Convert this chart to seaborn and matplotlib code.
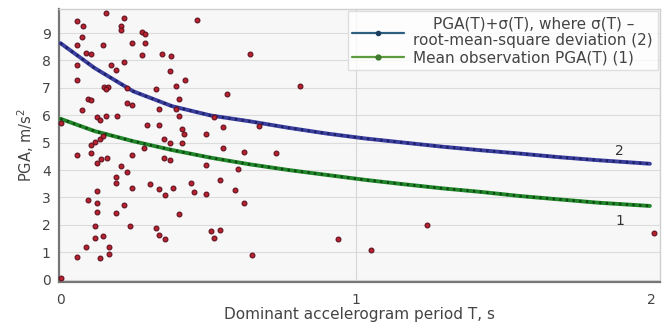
import matplotlib
matplotlib.use("Agg")
import matplotlib.pyplot as plt
import seaborn as sns
import pandas as pd
from matplotlib.lines import Line2D

# ---- data ----
period_obs = [0.055, 0.075, 0.154, 0.215, 0.204, 0.204, 0.072, 0.055, 0.144, 0.243, 0.277, 0.285,
              0.285, 0.277, 0.086, 0.105, 0.345, 0.374, 0.462, 0.641, 0.055, 0.17, 0.187, 0.215,
              0.372, 0.055, 0.392, 0.423, 0.147, 0.161, 0.155, 0.224, 0.322, 0.563, 0.81, 0.094,
              0.103, 0.224, 0.243, 0.402, 0.073, 0.125, 0.134, 0.154, 0.193, 0.334, 0.391, 0.40,
              0.521, 0.002, 0.294, 0.335, 0.411, 0.42, 0.493, 0.552, 0.673, 0.105, 0.116, 0.134,
              0.143, 0.282, 0.35, 0.372, 0.413, 0.055, 0.105, 0.136, 0.159, 0.243, 0.35, 0.372,
              0.552, 0.621, 0.729,
              0.125, 0.204, 0.224, 0.187, 0.187, 0.125, 0.244, 0.302, 0.333, 0.353, 0.381, 0.443,
              0.453, 0.493, 0.493, 0.54, 0.602, 0.591, 0.621, 0.094, 0.125, 0.125, 0.215, 0.187,
              0.402, 0.116, 0.234, 0.323, 0.333, 0.353, 0.116, 0.145, 0.51, 0.54, 0.521, 0.086,
              0.164, 0.164, 0.055, 0.134, 0.65, 0.002,
              0.939, 1.051, 1.24, 2.01]
pga_obs = [9.45, 9.24, 9.72, 9.54, 9.25, 9.1, 8.84, 8.57, 8.57, 8.63, 9.05, 8.95,
           8.63, 8.21, 8.27, 8.23, 8.24, 8.15, 9.48, 8.24, 7.84, 7.84, 7.64, 7.96,
           7.63, 7.3, 7.08, 7.27, 7.03, 7.03, 6.95, 7.0, 6.96, 6.79, 7.08, 6.6,
           6.55, 6.45, 6.39, 6.6, 6.18, 5.94, 5.84, 5.99, 5.99, 6.21, 6.21, 5.96,
           5.94, 5.72, 5.66, 5.66, 5.5, 5.3, 5.33, 5.56, 5.6, 4.93, 5.02, 5.12,
           5.26, 4.79, 5.12, 5.0, 4.97, 4.55, 4.63, 4.39, 4.45, 4.55, 4.45, 4.35,
           4.79, 4.65, 4.61,
           4.24, 4.15, 3.94, 3.76, 3.52, 3.24, 3.33, 3.48, 3.3, 3.08, 3.33, 3.54,
           3.21, 4.18, 3.12, 3.64, 4.05, 3.27, 2.81, 2.91, 2.81, 2.47, 2.73, 2.45,
           2.39, 1.96, 1.96, 1.9, 1.63, 1.48, 1.52, 1.6, 1.78, 1.82, 1.52, 1.21,
           1.18, 0.93, 0.81, 0.78, 0.9, 0.05,
           1.5, 1.09, 2.0, 1.7]

period_curve = [0.0, 0.116, 0.247, 0.378, 0.509, 0.64, 0.773, 0.903, 1.033, 1.164,
                1.295, 1.426, 1.557, 1.688, 1.819, 1.996]
pga_plus_sigma = [8.63, 7.72, 6.87, 6.33, 5.99, 5.78, 5.54, 5.33, 5.15, 5.0,
                  4.85, 4.72, 4.6, 4.47, 4.36, 4.23]
pga_mean = [5.87, 5.42, 5.05, 4.73, 4.45, 4.21, 4.0, 3.82, 3.64, 3.48,
            3.33, 3.2, 3.05, 2.93, 2.81, 2.69]

label_sigma = "PGA(T)+σ(T), where σ(T) –\nroot-mean-square deviation (2)"
label_mean = "Mean observation PGA(T) (1)"
x_label = "Dominant accelerogram period T, s"
y_label = "PGA, m/s$^2$"

# ---- figure ----
sns.set_theme(style="white")
plt.rcParams["font.family"] = ["DejaVu Sans"]

fig = plt.figure(figsize=(6.7, 3.27), dpi=100)
ax = fig.add_axes([0.088, 0.138, 0.897, 0.834])
ax.set_facecolor("#f7f7f7")

obs = pd.DataFrame({"T": period_obs, "PGA": pga_obs})
curves = pd.DataFrame({"T": period_curve, "sigma": pga_plus_sigma, "mean": pga_mean})

# grid
for yv in range(0, 10):
    ax.axhline(yv, color="#dcdcdc", lw=0.8, zorder=0)
ax.axvline(1, color="#d6d6d6", lw=0.8, zorder=0)

sns.lineplot(data=curves, x="T", y="sigma", ax=ax, color="#3b3f9e", lw=2.8,
             zorder=3, legend=False)
ax.plot(curves["T"], curves["sigma"], color="#1c1f66", lw=2.0,
        linestyle=(0, (0.8, 1.6)), zorder=4)
sns.lineplot(data=curves, x="T", y="mean", ax=ax, color="#22862a", lw=2.8,
             zorder=3, legend=False)
ax.plot(curves["T"], curves["mean"], color="#0c4a12", lw=2.0,
        linestyle=(0, (0.8, 1.6)), zorder=4)

sns.scatterplot(data=obs, x="T", y="PGA", ax=ax, color="#b8222c", s=12,
                edgecolor="#5e1020", linewidth=0.8, zorder=5, clip_on=False)

ax.text(1.894, 4.68, "2", fontsize=10, color="#333333", ha="center", va="center")
ax.text(1.894, 2.13, "1", fontsize=10, color="#333333", ha="center", va="center")

ax.set_xlim(-0.005, 2.03)
ax.set_ylim(-0.08, 9.87)
ax.set_xticks([0, 1, 2])
ax.set_xticklabels(["0", "1", "2"])
ax.set_yticks(range(0, 10))
ax.tick_params(axis="both", labelsize=10, colors="#444444", length=0, pad=6)
ax.tick_params(axis="x", pad=8)
ax.set_xlabel(x_label, fontsize=11, color="#444444", labelpad=0)
ax.set_ylabel(y_label, fontsize=10.5, color="#444444", labelpad=4)

for side in ["top", "right"]:
    ax.spines[side].set_color("#cfcfcf")
    ax.spines[side].set_linewidth(1.0)
for side in ["left", "bottom"]:
    ax.spines[side].set_color("#777777")
    ax.spines[side].set_linewidth(1.6)

h1 = Line2D([0, 1, 2, 3], [0, 0, 0, 0], color="#2d5f80", lw=1.6, marker="o", markersize=3,
            markevery=[1, 2], markerfacecolor="#1c3d60", markeredgecolor="#1c3d60")
h2 = Line2D([0, 1, 2, 3], [0, 0, 0, 0], color="#5e9a3e", lw=1.6, marker="o", markersize=3.5,
            markevery=[1, 2], markerfacecolor="#3f7a2c", markeredgecolor="#3f7a2c")
leg = ax.legend([h1, h2], [label_sigma, label_mean], loc="upper right",
                fontsize=11, handlelength=3.4, frameon=True, fancybox=False,
                borderaxespad=0.15, labelspacing=0.15, handletextpad=0.6,
                borderpad=0.3)
leg.get_frame().set_facecolor("white")
leg.get_frame().set_edgecolor("#d8d8d8")
for t in leg.get_texts():
    t.set_color("#444444")
    t.set_multialignment("center")

fig.savefig("out.png", dpi=100)
